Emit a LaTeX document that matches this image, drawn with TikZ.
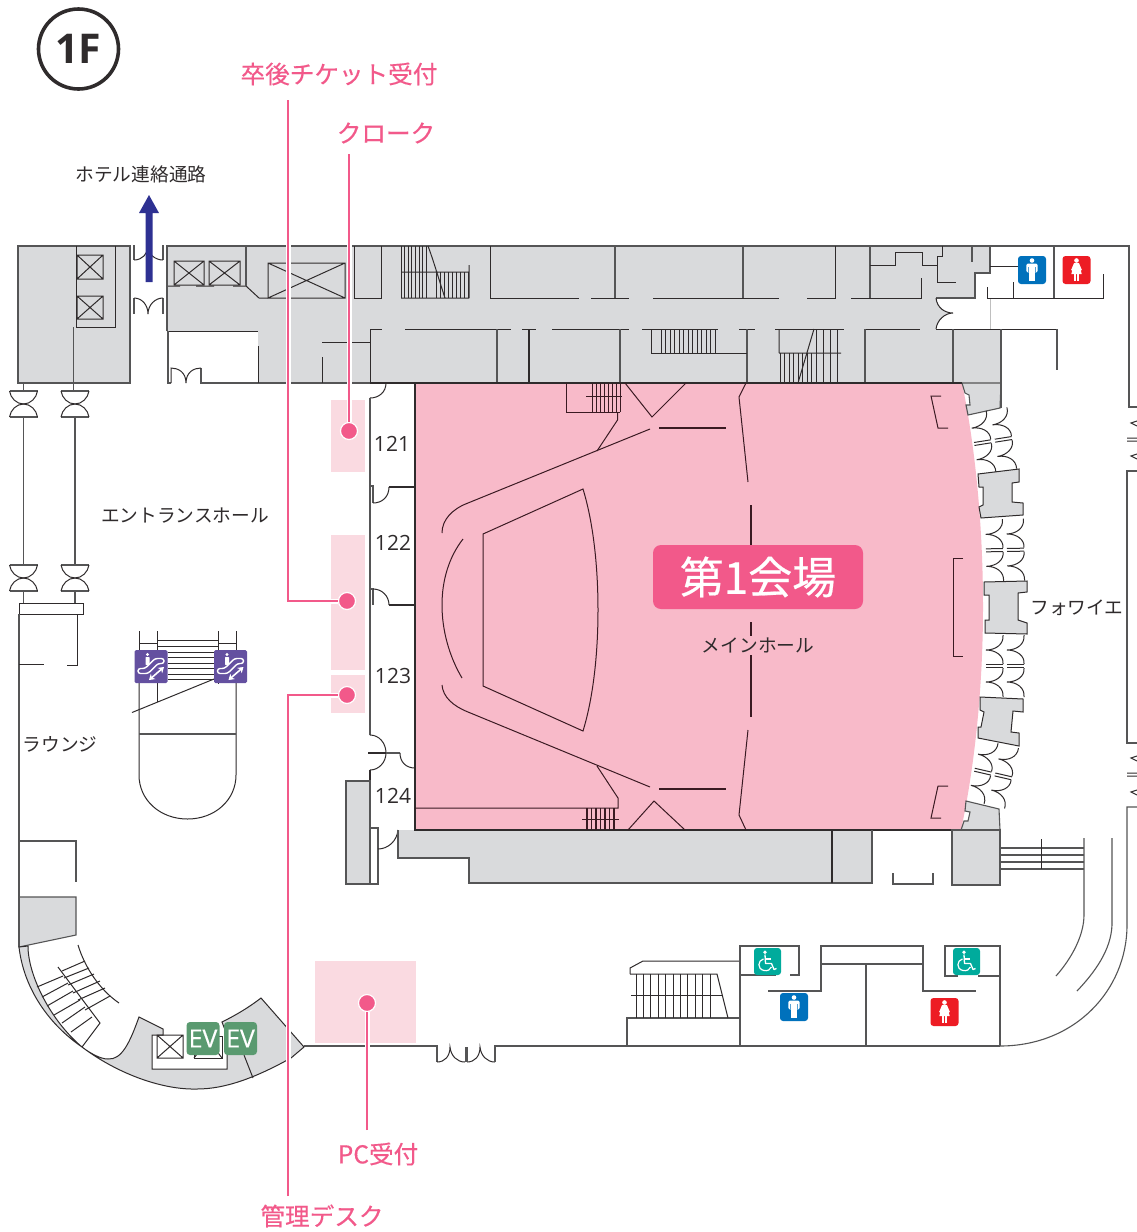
\documentclass[tikz,border=0pt]{standalone}
\usepackage{fontspec}
\usetikzlibrary{arrows.meta}
\setmainfont{Noto Sans CJK JP}
\newfontfamily\jpmed[FakeBold=0.35]{Noto Sans CJK JP}
\newfontfamily\jpsemi[FakeBold=0.5]{Noto Sans CJK JP}
\newfontfamily\latn{Open Sans}
\newfontfamily\latnmed[FakeBold=0.3]{Open Sans}
\definecolor{grayfill}{HTML}{D9DADC}
\definecolor{hallpink}{HTML}{F8BAC9}
\definecolor{softpink}{HTML}{FADAE1}
\definecolor{hotpink}{HTML}{F2598A}
\definecolor{wallc}{HTML}{555556}
\definecolor{darkw}{HTML}{2F2B2C}
\definecolor{hallw}{HTML}{3A1A22}
\definecolor{mancol}{HTML}{0071BC}
\definecolor{womcol}{HTML}{ED1C24}
\definecolor{wheelcol}{HTML}{00AB9C}
\definecolor{esccol}{HTML}{6450A0}
\definecolor{evcol}{HTML}{5A9A70}
\definecolor{navy}{HTML}{2E3192}
\tikzset{
  wall/.style={draw=wallc,line width=1.1pt},
  dw/.style={draw=darkw,line width=1pt},
  hw/.style={draw=hallw,line width=1pt},
  thick wall/.style={draw=darkw,line width=2pt},
  grayblock/.style={fill=grayfill},
  softzone/.style={fill=softpink},
  leader/.style={draw=hotpink,line width=1.8pt},
  casing/.style={draw=white,line width=5pt},
  pdot/.style={circle,fill=hotpink,draw=white,line width=1.2pt,minimum size=17pt,inner sep=0pt},
  jplabel/.style={font=\fontsize{18.7}{20}\selectfont,text=darkw,inner sep=0pt},
  picklabel/.style={font=\jpmed\fontsize{24.6}{26}\selectfont,text=hotpink,inner sep=0pt},
  roomno/.style={font=\latn\fontsize{21}{23}\selectfont,text=darkw,inner sep=0pt},
}
\newcommand\xbox[4]{\draw[dw] (#1,#2) rectangle (#3,#4) (#1,#2)--(#3,#4) (#1,#4)--(#3,#2);}
% hourglass double door
\newcommand\hglass[2]{\begin{scope}[shift={(#1,#2)}]
 \draw[wall] (-14,0)--(14,0) (-14,26)--(14,26);
 \draw[dw] (-14,0) .. controls (-13,7) and (-7,13) .. (0,13) .. controls (7,13) and (13,7) .. (14,0);
 \draw[dw] (-14,26) .. controls (-13,19) and (-7,13) .. (0,13) .. controls (7,13) and (13,19) .. (14,26);
 \end{scope}}
% one "3" shaped pair of doors, x from 0 to 17, y from -31 to 31
\newcommand\threedoor{
 \draw[dw] (17,-31) .. controls (18,-22) and (10,-16) .. (0,-16) .. controls (10,-16) and (18,-10) .. (17,-2);
 \draw[dw] (17,31) .. controls (18,22) and (10,16) .. (0,16) .. controls (10,16) and (18,10) .. (17,2);
 \draw[dw] (0,-1.5)--(17,-1.5) (0,1.5)--(17,1.5);
}
\newcommand\doorbay[3]{\begin{scope}[shift={(#1,#2)},rotate=#3]
 \begin{scope}[shift={(-19,0)}]\threedoor\end{scope}
 \begin{scope}[shift={(2,0)}]\threedoor\end{scope}
 \end{scope}}
\newcommand\manicon[2]{\begin{scope}[shift={(#1,#2)}]
 \fill[mancol,rounded corners=3pt] (-14,-14) rectangle (14,14);
 \fill[white] (0,-9.5) circle (2.3);
 \fill[white,rounded corners=1.4pt] (-5.6,-6.5) rectangle (5.6,2.5);
 \fill[white] (-3.4,0) rectangle (-0.4,11);
 \fill[white] (0.4,0) rectangle (3.4,11);
 \fill[mancol] (-3.9,-3) rectangle (-3.4,2.6) (3.4,-3) rectangle (3.9,2.6);
 \end{scope}}
\newcommand\womicon[2]{\begin{scope}[shift={(#1,#2)}]
 \fill[womcol,rounded corners=3pt] (-14,-14) rectangle (14,14);
 \fill[white] (0,-9.5) circle (2.3);
 \fill[white] (-2.5,-6.8) -- (2.5,-6.8) -- (5.4,0) -- (4.3,0.5) -- (5.2,4) -- (-5.2,4) -- (-4.3,0.5) -- (-5.4,0) -- cycle;
 \fill[white] (-2.6,4) rectangle (-0.5,11);
 \fill[white] (0.5,4) rectangle (2.6,11);
 \end{scope}}
\newcommand\wheelicon[2]{\begin{scope}[shift={(#1,#2)}]
 \fill[wheelcol,rounded corners=3pt] (-13.5,-13.5) rectangle (13.5,13.5);
 \fill[white] (-2.5,-9.2) circle (1.9);
 \draw[white,line width=1.3pt,line join=round] (-2.5,-7) -- (-2,2) -- (4,2) -- (6.5,8) -- (9,7);
 \draw[white,line width=1.1pt] (-2.2,-2.5) -- (3.5,-2.5);
 \draw[white,line width=1.2pt] (-4,-2.6) .. controls (-10,-1) and (-10.5,7.5) .. (-3.5,9) .. controls (0,9.8) and (3,8) .. (4,5.5);
 \end{scope}}
\newcommand\escicon[2]{\begin{scope}[shift={(#1,#2)}]
 \fill[esccol,rounded corners=1.5pt] (-16.5,-16.5) rectangle (16.5,16.5);
 \fill[white] (-3.5,-12) circle (1.7);
 \fill[white,rounded corners=.6pt] (-5.5,-9.5) rectangle (-1.5,-1.5);
 \draw[white,line width=1.4pt,rounded corners=2.5pt] (-13,2) -- (-6,2) -- (4,-8) -- (13,-8) -- (13,-3) -- (7,-3) -- (-3,7) -- (-13,7) -- cycle;
 \draw[white,line width=1.6pt,{Stealth[length=5.5pt,width=7pt]}-{Stealth[length=5.5pt,width=7pt]}] (-2,13.5) -- (13,0.5);
 \end{scope}}
\newcommand\evicon[2]{\begin{scope}[shift={(#1,#2)}]
 \fill[evcol,rounded corners=3.5pt] (-16.5,-16.5) rectangle (16.5,16.5);
 \node[text=white,font=\latnmed\fontsize{25}{27}\selectfont,inner sep=0pt] at (0,0) {EV};
 \end{scope}}
\begin{document}
\begin{tikzpicture}[x=1pt,y=-1pt]
\useasboundingbox (0,0) rectangle (1137,1232);
\fill[white] (0,0) rectangle (1137,1232);

%% ---------- gray fills
\fill[grayblock] (18,246) rectangle (130,383);
\fill[grayblock] (167,246) -- (990,246) -- (990,273) -- (975,273) -- (975,298) -- (936,298)
  .. controls (937,308) and (945,313) .. (953,313) .. controls (945,313) and (937,320) .. (936,329)
  -- (1001,329) -- (1001,383) -- (258,383) -- (258,331) -- (167,331) -- cycle;
\fill[grayblock] (398,830) -- (872,830) -- (872,883) -- (469,883) -- (469,858) -- (398,858) -- cycle;
\fill[grayblock] (346,781) rectangle (370,884);
\fill[grayblock] (952,830) rectangle (1000,885);
\draw[wall,grayblock] (19,897) -- (76,897) -- (76,935) -- (19,947) -- cycle;

%% ---------- hall
\fill[hallpink] (415,383) -- (962,383) .. controls (976,450) and (983,530) .. (983,607)
  .. controls (983,680) and (976,760) .. (961,830) -- (415,830) -- cycle;

%% ---------- pillars beside the hall
\draw[wall,grayblock] (962,383) -- (1001,383) -- (1000,408) -- (968,415) -- (966,405) -- (970,405) -- (969,395) -- (965,393) -- cycle;
\draw[dw,grayblock] (978,474) -- (1019,469) -- (1019,482) -- (1012,483) -- (1012,502) -- (1023,503) -- (1023,515) -- (981,518) -- (979,507) -- (983,505) -- (983,487) -- (979,487) -- cycle;
\draw[dw,grayblock] (984,582) -- (1027,581) -- (1027,592) -- (1018,593) -- (1018,620) -- (1027,623) -- (1027,634) -- (985,633) -- (985,620) -- (989,620) -- (989,595) -- (984,595) -- cycle;
\draw[dw,grayblock] (980,697) -- (1023,699) -- (1023,712) -- (1013,711) -- (1011,732) -- (1019,733) -- (1019,746) -- (978,738) -- (978,727) -- (981,727) -- (984,712) -- (980,710) -- cycle;
\draw[wall,grayblock] (966,801) -- (999,809) -- (1000,830) -- (961,830) -- (964,821) -- (968,821) -- (970,812) -- (965,811) -- cycle;
\doorbay{993}{441}{9}
\doorbay{1005}{550}{1}
\doorbay{1005}{666}{0}
\doorbay{993}{774}{-13}

%% ---------- soft zones
\fill[softzone] (331,400) rectangle (365,472);
\fill[softzone] (331,535) rectangle (365,670);
\fill[softzone] (331,675) rectangle (365,713);
\fill[softzone] (315,961) rectangle (416,1043);

%% ---------- top-left block
\draw[wall] (18,246) rectangle (130,383);
\draw[dw] (76,246) -- (76,327) -- (115,327) -- (115,246);
\draw[wall] (73.5,327) -- (73.5,391);
\draw[wall] (23.5,383) -- (23.5,391);
\xbox{77}{255}{103}{279}
\xbox{77}{296}{103}{319}
\hglass{23.5}{391}
\hglass{75}{391}
\draw[wall] (23.5,417) -- (23.5,565) (75,417) -- (75,565);
\hglass{23.5}{565}
\hglass{75}{565}
\draw[wall] (23.5,591) -- (23.5,603) (75,591) -- (75,603);
\draw[dw] (19,603) rectangle (83,614);

%% ---------- central doors
\draw[wall] (134,245) -- (134,260) (163,245) -- (163,260);
\draw[dw] (134,260) .. controls (142,260) and (148,254) .. (148,246) .. controls (148,254) and (155,260) .. (163,260);
\draw[wall] (134,298) -- (134,314) (163,298) -- (163,314);
\draw[dw] (134,298) .. controls (142,298) and (148,305) .. (148,314) .. controls (148,305) and (155,298) .. (163,298);

%% ---------- top gray block walls
\draw[wall] (167,331) -- (167,246) -- (990,246);
\draw[dw] (168,331) -- (258,331);
\draw[wall] (168,331) -- (168,383) -- (171,383) (201,368) -- (201,383) -- (370,383);
\draw[dw] (171,383) -- (171,368) .. controls (178,368) and (186,372) .. (186,383) .. controls (186,372) and (194,368) .. (201,368);
\draw[dw] (258.5,346) -- (258.5,383);
\xbox{174}{261}{204}{285}
\xbox{209}{261}{240}{285}
\draw[dw] (168,286) -- (180,286) (196,286) -- (214,286) (233,286) -- (246,286) -- (259,298) -- (268,298);
\draw[wall] (246,246) -- (246,286);
\xbox{268}{263}{345}{298}
\draw[dw] (354,246) -- (354,298) -- (381,298) -- (381,246);
\draw[dw] (322,342) -- (370,342) (322,357) -- (322,383) (370,329) -- (370,383);
\draw[dw] (370,329) -- (382,329);
% stair 1
\foreach \x in {401,404.6,...,428} \draw[dw,line width=.9pt] (\x,246) -- (\x,298);
\foreach \x in {436,440,...,470} \draw[dw,line width=.9pt] (\x,272) -- (\x,298);
\draw[dw] (401,272) -- (469,272) (401,298) -- (469,298) (469,265) -- (469,298) (428,246) .. controls (434,262) and (439,280) .. (445,298);
% room walls along the corridor
\draw[dw] (490,246) -- (490,298) -- (579,298) (591,298) -- (629,298) (653,298) -- (779,298) (807,298) -- (835,298) -- (835,246) (851,298) -- (921,298) -- (921,278);
\draw[wall] (615,246) -- (615,298) (743,246) -- (743,298) (870,246) -- (870,298);
\draw[dw] (870,265) -- (895,265) -- (895,252) -- (922,252) -- (922,265) -- (937,265);
\draw[dw] (942,246) -- (942,256) -- (937,256) -- (937,282) -- (956,282);
\draw[wall] (972,246) -- (972,262);
\draw[wall] (990,246) -- (990,273) -- (975,273) -- (975,298) -- (936,298);
\draw[dw] (936,298) .. controls (937,308) and (945,313) .. (953,313) .. controls (945,313) and (937,320) .. (936,329);
\draw[dw] (405,329) -- (511,329) (522,329) -- (536,329) (552,329) -- (629,329) (642,329) -- (718,329) (739,329) -- (755,329) (775,329) -- (844,329) (865,329) -- (920,329) (936,329) -- (1057,329);
\draw[wall] (497,329) -- (497,383) (620,329) -- (620,383) (747,329) -- (747,383) (865,329) -- (865,383) (953,329) -- (953,383) (1001,329) -- (1001,408);
\draw[darkw,line width=1.4pt] (529,329) -- (529,383);
\draw[dw] (651,329) -- (651,353) -- (747,353);
\foreach \x in {661,665.5,...,715} \draw[dw,line width=.9pt] (\x,329) -- (\x,353);
\draw[dw] (779,329) -- (779,353) (779,353) -- (841,353) (798,383) -- (814,329);
\foreach \x in {780,784.5,...,812} \draw[dw,line width=.9pt] (\x,353) -- (\x,383);
\foreach \x in {816,823,...,838} \draw[dw,line width=.9pt] (\x,329) -- (\x,383);
% right upper area
\draw[gray!50,line width=.7pt] (990,298) -- (990,329);
\draw[dw] (990,266) -- (1019,266) (987,287) -- (987,298) -- (1103,298) -- (1103,274) (1013,282) -- (1013,298);
\draw[wall] (1054,246) -- (1054,298);
\draw[wall] (990,246) -- (1129,246) -- (1129,407) -- (1137,407);
\draw[wall] (1057,329) -- (1057,370);

%% ---------- far right wall
\draw[wall] (1137,471) -- (1127,471) -- (1127,743) -- (1137,743);
\draw[dw] (1137,421) -- (1131,423) -- (1137,426) (1127,438) -- (1137,438) (1127,441) -- (1137,441) (1137,454) -- (1131,456) -- (1137,459);
\draw[dw] (1137,756) -- (1131,758) -- (1137,761) (1127,773) -- (1137,773) (1127,776) -- (1137,776) (1137,790) -- (1131,792) -- (1137,795);
\draw[wall] (1137,807) -- (1127,807) -- (1127,925) .. controls (1127,990) and (1075,1046) .. (1000,1046);
\draw[wall] (1084,838) -- (1084,915) .. controls (1084,935) and (1072,958) .. (1056,976);
\draw[wall] (1112,838) -- (1112,925) .. controls (1111,950) and (1095,972) .. (1077,991);
\draw[wall] (1000,848) -- (1084,848) (1000,855) -- (1084,855) (1000,862) -- (1084,862) (1000,869) -- (1084,869);
\draw[dw] (1041,839) -- (1041,869);

%% ---------- corridor rooms beside the hall
\draw[thick wall] (370,383) -- (962,383);
\draw[thick wall] (415,383) -- (415,830) -- (961,830);
\draw[dw] (386,383) .. controls (386,392) and (379,398) .. (370,398);
\draw[wall,line width=1.4pt] (370,398) -- (370,486) -- (373,486) -- (373,503);
\draw[dw] (373,503) .. controls (382,503) and (389,497) .. (389,487);
\draw[thick wall] (389,487) -- (415,487);
\draw[wall,line width=1.4pt] (370,486) -- (370,589) -- (373,589) -- (373,605);
\draw[dw] (373,589) .. controls (382,589) and (389,596) .. (389,605);
\draw[thick wall] (389,605) -- (415,605);
\draw[wall,line width=1.4pt] (370,589) -- (370,735);
\draw[dw] (370,735) .. controls (379,735) and (386,743) .. (386,753) .. controls (386,762) and (379,770) .. (370,770);
\draw[darkw,line width=2.4pt] (368,753) -- (386,753);
\draw[wall] (386,753) -- (400,753);
\draw[dw] (400,753) .. controls (400,762) and (406,768) .. (415,768);
\draw[darkw,line width=1.5pt] (370,770) -- (370,884);
\draw[wall] (346,781) rectangle (370,884);
\draw[wall] (370,828) rectangle (378,884);
\draw[dw] (378,849) .. controls (388,849) and (397,841) .. (398,830);
\draw[wall] (398,830) -- (398,858) -- (469,858) -- (469,883) -- (872,883) -- (872,830);
\draw[darkw,line width=1.6pt] (832,830) -- (832,883);
\draw[wall] (893,873) -- (893,884) -- (933,884) -- (933,873);
\draw[wall] (952,830) rectangle (1000,885);

%% ---------- inside the hall
\draw[hw] (566,383) -- (566,412) -- (620,412);
\foreach \x in {592,596,...,620} \draw[hw,line width=1pt] (\x,383) -- (\x,412);
\draw[hw] (586,396) -- (622,396);
\draw[hw] (617.5,412) -- (617.5,420) -- (597,451);
\draw[hw] (625,383) -- (652,417) -- (686,383);
\draw[hallw,line width=1.8pt] (659,428) -- (726,428);
\draw[hw] (650,429) -- (468,503) .. controls (452,509) and (442,520) .. (442,533);
\draw[hw] (463,539) .. controls (449,557) and (442,580) .. (442,605) .. controls (442,630) and (449,656) .. (462,678);
\draw[hw] (442,685) .. controls (443,697) and (453,706) .. (468,712) -- (650,787);
\draw[hw] (483,534) -- (583,489) .. controls (594,525) and (598,570) .. (598,610) .. controls (598,650) and (594,695) .. (583,731) -- (483,686) -- cycle;
\draw[hw] (597,766) -- (618,798) -- (618,808) -- (415,808);
\foreach \x in {587,591.5,...,618} \draw[hw,line width=1.1pt] (\x,808) -- (\x,830);
\draw[hw] (582,819) -- (619,819);
\draw[hw] (628,830) -- (654,801) -- (685,830);
\draw[hallw,line width=1.8pt] (659,789) -- (726,789);
\draw[hw] (746,383) -- (739,397) -- (748,482);
\draw[hw,line width=1.3pt] (751,505) -- (751,545) (751,622) -- (751,636) (751,655) -- (751,717);
\draw[hw] (748,730) -- (739,815) -- (746,830);
\draw[hw] (941,396) -- (931,396) -- (938,428) -- (948,428);
\draw[hw] (963,558) -- (953,558) -- (953,656) -- (963,656);
\draw[hw] (948,786) -- (938,786) -- (931,818) -- (941,818);

%% ---------- lower right rooms
\draw[wall] (304,1046) -- (437,1046) -- (437,1062);
\draw[dw] (437,1062) .. controls (445,1062) and (450,1056) .. (450,1047) .. controls (451,1056) and (457,1062) .. (465,1062);
\draw[wall] (465.5,1047) -- (465.5,1062);
\draw[dw] (467,1062) .. controls (475,1062) and (480,1056) .. (480,1047) .. controls (481,1056) and (487,1062) .. (495,1062);
\draw[wall] (467,1047) -- (467,1062);
\draw[wall] (495,1062) -- (495,1046) -- (1000,1046);
\draw[wall] (627,1046) -- (627,1018) -- (740,1018);
\draw[dw] (630,974) -- (630,968) -- (643,961) -- (740,961);
\draw[dw] (630,974) -- (717,974) -- (728,1018);
\foreach \x in {636,643.4,...,712} \draw[dw] (\x,974) -- (\x,1018);
\draw[dw] (631,995) -- (722,995);
\draw[wall] (740,1046) -- (740,946) -- (799,946) -- (799,975) -- (790,975) (776,975) -- (740,975);
\draw[wall] (768,991) -- (821,991) -- (821,946) -- (923,946) -- (923,991) -- (976,991);
\draw[wall] (821,964) -- (923,964) (866,964) -- (866,1046);
\draw[wall] (958,976) -- (945,976) -- (945,946) -- (1000,946) -- (1000,1046);
\draw[wall] (978,976) -- (1000,976);

%% ---------- west lounge walls
\draw[wall] (19,614) -- (19,947);
\draw[dw] (19,664) -- (44,664) (67,665) -- (77,665) -- (77,614);
\draw[wall] (19,841) -- (76,841) -- (76,882);

%% ---------- escalator well
\draw[dw] (139,631) -- (139,650) (157,631) -- (157,650) (218,631) -- (218,650) (236,631) -- (236,650);
\draw[dw] (139,643.5) -- (157,643.5) (218,643.5) -- (236,643.5);
\draw[dw] (157,640) rectangle (218,646);
\foreach \y in {652,657,663,668,674,679} \draw[dw] (168,\y) -- (214,\y);
\draw[dw] (157,683) -- (157,702) (218,683) -- (218,684);
\draw[dw] (132,712.5) -- (214,679);
\draw[dw] (139,683) -- (139,775) .. controls (139,800) and (160,819) .. (187.5,819) .. controls (215,819) and (236,800) .. (236,775) -- (236,683);
\draw[wall] (139,734) -- (236,734);

%% ---------- rotunda
\draw[dw,grayblock] (19,947) .. controls (24,990) and (50,1025) .. (82,1047)
  .. controls (115,1072) and (160,1090) .. (197,1089)
  .. controls (225,1089) and (255,1078) .. (291,1058) -- (304,1047) -- (261,998)
  .. controls (248,1008) and (236,1015) .. (222,1022) -- (227,1035) -- (227,1069) -- (152,1069) -- (152,1035) -- (163,1035) -- (163,1029) -- (139,1017)
  .. controls (130,1042) and (122,1060) .. (108,1059) .. controls (100,1059) and (90,1053) .. (82,1047)
  .. controls (50,1020) and (28,975) .. (28,946) -- cycle;
\fill[white] (153,1036) rectangle (226,1068);
\draw[dw] (244,1055) -- (253,1078);
\xbox{157}{1035}{183}{1058}
\draw[dw] (194,1058) rectangle (222,1036);
\draw[dw] (194,1058) -- (200,1050) (222,1058) -- (216,1050);
% curved stair
\draw[dw] (78,945) .. controls (85,968) and (100,990) .. (119,1003);
\draw[dw] (58,967) -- (100,1023) -- (82,1047);
\draw[dw] (62,971) -- (85,961) (64,978) -- (89,968) (68,985) -- (94,974) (73,993) -- (100,981) (78,1000) -- (105,988) (85,1010) -- (110,996);
\draw[dw] (37,987) -- (63,976) (42,997) -- (68,983) (47,1006) -- (73,991) (54,1015) -- (80,1000) (62,1023) -- (85,1007) (71,1032) -- (92,1017);

%% ---------- arrow
\fill[navy] (145.5,282) -- (152.5,282) -- (152.5,213) -- (159,213) -- (149,195) -- (139,213) -- (145.5,213) -- cycle;

%% ---------- icons
\manicon{1032}{270}
\womicon{1076.5}{270}
\manicon{794}{1007}
\womicon{944.5}{1012}
\wheelicon{767.5}{961.5}
\wheelicon{966.5}{961.5}
\escicon{151}{666.5}
\escicon{230.5}{666.5}
\evicon{203}{1038.5}
\evicon{240.5}{1038.5}

%% ---------- hall label
\node[fill=hotpink,rounded corners=8pt,minimum width=210pt,minimum height=64pt,inner sep=0pt,text=white] (hallbadge) at (758,577) {};
\node[text=white,font=\jpsemi\fontsize{44}{46}\selectfont,inner sep=0pt] (halltitle) at (758,577) {第1会場};

%% ---------- dots and leaders
\node[pdot] (dotA) at (347,601) {};
\node[pdot] (dotB) at (349,431) {};
\node[pdot] (dotC) at (347,695) {};
\node[pdot] (dotD) at (367,1003) {};
\coordinate (endA) at (288,100);
\coordinate (endB) at (349,154);
\coordinate (endC) at (288,1196);
\coordinate (endD) at (367,1130);
\draw[casing] (endA) |- (dotA);
\draw[casing] (endB) -- (dotB);
\draw[casing] (endC) |- (dotC);
\draw[casing] (endD) -- (dotD);
\draw[leader] (endA) |- (dotA);
\draw[leader] (endB) -- (dotB);
\draw[leader] (endC) |- (dotC);
\draw[leader] (endD) -- (dotD);

%% ---------- labels
\node[draw=darkw,line width=3.6pt,circle,minimum size=80pt,inner sep=0pt,text=darkw,font=\latn\fontsize{41}{44}\selectfont\bfseries] (floor) at (78.5,49) {1F};
\node[picklabel] (labA) at (339,74) {卒後チケット受付};
\node[picklabel] (labB) at (386,133) {クローク};
\node[picklabel] (labC) at (378,1154) {PC受付};
\node[picklabel] (labD) at (322,1216) {管理デスク};
\node[jplabel] (labE) at (141,174) {ホテル連絡通路};
\node[jplabel] (labF) at (185,516) {エントランスホール};
\node[jplabel] (labG) at (758,645) {メインホール};
\node[jplabel] (labH) at (60,744) {ラウンジ};
\node[jplabel] (labI) at (1077,608) {フォワイエ};
\node[roomno] (r121) at (392,444) {121};
\node[roomno] (r122) at (393,543) {122};
\node[roomno] (r123) at (393,676) {123};
\node[roomno] (r124) at (393,796) {124};
\end{tikzpicture}
\end{document}
